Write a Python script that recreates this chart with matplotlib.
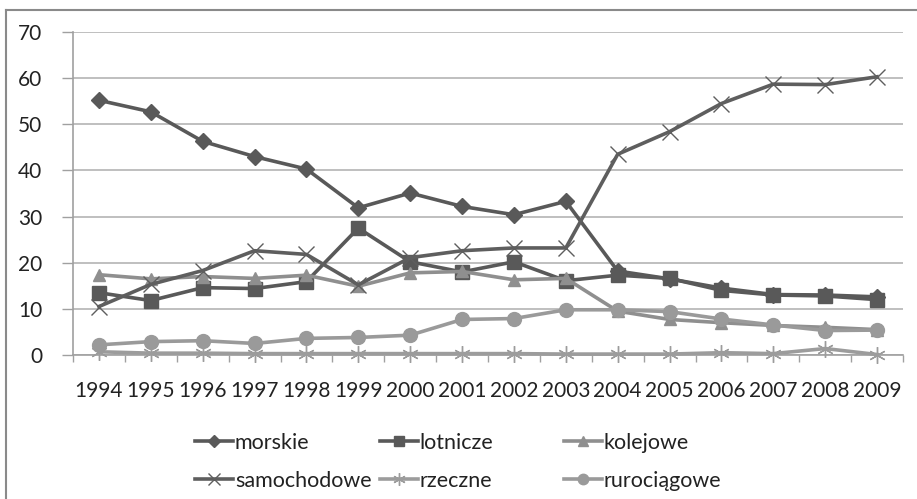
import matplotlib
matplotlib.use("Agg")
import matplotlib.pyplot as plt
from matplotlib.lines import Line2D

years = ["1994", "1995", "1996", "1997", "1998", "1999", "2000", "2001",
         "2002", "2003", "2004", "2005", "2006", "2007", "2008", "2009"]
morskie = [55.2, 52.7, 46.3, 43.0, 40.3, 31.9, 35.1, 32.2, 30.4, 33.3, 18.2, 16.5, 14.5, 13.1, 13.0, 12.6]
lotnicze = [13.5, 11.8, 14.6, 14.4, 15.9, 27.5, 20.2, 18.0, 20.2, 16.1, 17.3, 16.6, 14.0, 13.0, 12.8, 12.0]
kolejowe = [17.4, 16.5, 17.0, 16.6, 17.3, 14.9, 17.8, 18.1, 16.3, 16.6, 9.5, 7.7, 7.0, 6.4, 6.0, 5.5]
samochodowe = [10.5, 15.3, 18.3, 22.6, 21.8, 15.2, 21.1, 22.6, 23.2, 23.2, 43.5, 48.4, 54.5, 58.7, 58.6, 60.3]
rzeczne = [0.7, 0.4, 0.4, 0.3, 0.3, 0.3, 0.3, 0.3, 0.3, 0.2, 0.2, 0.2, 0.5, 0.3, 1.4, 0.1]
rurociagowe = [2.2, 2.9, 3.1, 2.5, 3.6, 3.8, 4.3, 7.7, 7.9, 9.8, 9.8, 9.4, 7.8, 6.5, 5.3, 5.4]

names = ["morskie", "lotnicze", "kolejowe", "samochodowe", "rzeczne", "rurociągowe"]
series = [morskie, lotnicze, kolejowe, samochodowe, rzeczne, rurociagowe]
colors = ["#595959", "#595959", "#8f8f8f", "#5e5e5e", "#9c9c9c", "#9a9a9a"]
markers = ["D", "s", "^", "x", "*", "o"]
msizes = [8, 10, 9, 12, 12, 10]

plt.rcParams['font.family'] = ['Lato', 'DejaVu Sans']

fig = plt.figure(figsize=(9.17, 4.99), dpi=100)
fig.patch.set_facecolor("white")
ax = fig.add_axes([73/917, 1 - 355/499, (903-73)/917, (355-32)/499])

x = list(range(len(years)))
handles = []
for name, vals, c, m, ms in zip(names, series, colors, markers, msizes):
    if m in ("x", "*"):
        h, = ax.plot(x, vals, color=c, lw=2.6, marker="x" if m == "x" else (6, 2, 0),
                     ms=ms, mec=c, mew=1.0, label=name, clip_on=False, zorder=3)
    else:
        h, = ax.plot(x, vals, color=c, lw=2.6, marker=m, ms=ms, mfc=c, mec=c,
                     label=name, clip_on=False, zorder=3)
    handles.append(h)

ax.set_xlim(-0.5, len(years) - 0.5)
ax.set_ylim(0, 70)
ax.set_yticks(range(0, 71, 10))
ax.set_xticks(x)
ax.set_xticklabels(years)
ax.set_xticks([i - 0.5 for i in range(len(years) + 1)], minor=True)
ax.tick_params(axis="x", which="major", length=0, pad=19, labelsize=15, colors="#222222")
ax.tick_params(axis="x", which="minor", length=5, color="#a0a0a0", width=1)
ax.tick_params(axis="y", length=8, color="#a0a0a0", width=1, pad=14, labelsize=15, labelcolor="#222222")
ax.grid(axis="y", color="#b4b4b4", lw=1.2)
ax.set_axisbelow(True)
for s in ("top", "right"):
    ax.spines[s].set_visible(False)
ax.spines["left"].set_color("#a0a0a0")
ax.spines["bottom"].set_color("#a0a0a0")
ax.spines["left"].set_linewidth(1.2)
ax.spines["bottom"].set_linewidth(1.2)

# figure frame (left and top)
fig.add_artist(Line2D([6/917, 6/917], [0, 1 - 10/499], transform=fig.transFigure, color="#8a8a8a", lw=1.5))
fig.add_artist(Line2D([6/917, 1], [1 - 10/499, 1 - 10/499], transform=fig.transFigure, color="#8a8a8a", lw=1.5))

cols = [(0, 3), (1, 4), (2, 5)]
xpos = [195, 380, 564]
for (a, b), xp in zip(cols, xpos):
    hs = [handles[a], handles[b]]
    leg = fig.legend(hs, [names[a], names[b]], loc="upper left",
                     bbox_to_anchor=(xp/917, 1 - 433/499), frameon=False,
                     fontsize=15.5, handlelength=1.75, handletextpad=0.1,
                     labelspacing=0.82, borderpad=0, borderaxespad=0, markerscale=0.75)
    for t in leg.get_texts():
        t.set_color("#222222")

fig.savefig("out.png", dpi=100, facecolor="white")
